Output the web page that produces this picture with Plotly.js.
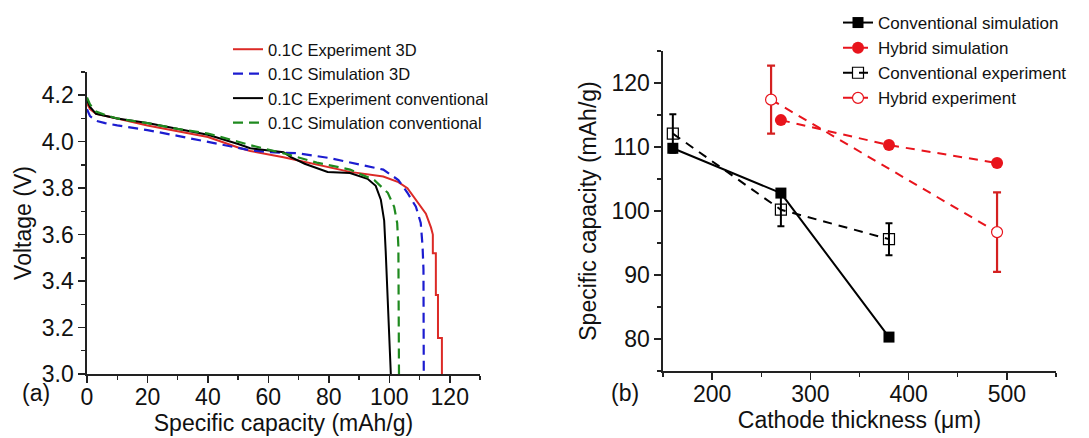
<!DOCTYPE html>
<html><head><meta charset="utf-8">
<script src="https://cdn.plot.ly/plotly-3.0.1.min.js"></script>
<style>html,body{margin:0;padding:0;background:#fff}#chart{width:1089px;height:438px}</style>
</head><body><div id="chart"></div>
<script>
// Panel (a): discharge curves, capacity (mAh/g) vs voltage (V)
const exp3dCap = [0,1,3,6,10,20,30,40,50,54,65,76,87,98,103,106,108.3,110.4,112.1,113.8,114.4,114.4,115.4,115.4,116.1,116.1,117.4,117.4];
const exp3dV   = [4.165,4.14,4.12,4.11,4.10,4.07,4.045,4.02,3.975,3.96,3.933,3.90,3.87,3.85,3.826,3.80,3.76,3.72,3.69,3.63,3.60,3.52,3.52,3.34,3.34,3.155,3.155,3.0];
const sim3dCap = [0,1,3,6,10,20,30,40,50,54,60,70,80,87,93,98,103,106,108.8,110.4,111,111.3,111.4];
const sim3dV   = [4.14,4.11,4.09,4.08,4.07,4.05,4.025,4.0,3.975,3.963,3.955,3.95,3.93,3.91,3.895,3.88,3.835,3.78,3.72,3.65,3.55,3.45,3.0];
const expConvCap = [0,1,3,6,10,20,30,40,50,54,65,67.3,72,79.6,87,92.8,95.5,97.2,98.3,98.8,100.5];
const expConvV   = [4.18,4.15,4.12,4.11,4.10,4.08,4.055,4.03,3.99,3.972,3.955,3.935,3.905,3.87,3.865,3.84,3.81,3.75,3.66,3.53,3.0];
const simConvCap = [0,1,3,6,10,20,30,40,50,54,65,76,87,95,99.5,101.6,102.6,103,103.2];
const simConvV   = [4.19,4.16,4.13,4.115,4.10,4.08,4.055,4.035,4.0,3.985,3.95,3.91,3.88,3.835,3.78,3.72,3.65,3.55,3.0];

// Panel (b): specific capacity vs cathode thickness
const convSimX = [160,270,380];
const convSimY = [109.8,102.8,80.3];
const hybSimX = [270,380,490];
const hybSimY = [114.2,110.3,107.5];
const convExpX = [160,270,380];
const convExpY = [112.1,100.2,95.6];
const convExpErr = [3.0,2.6,2.5];
const hybExpX = [260,490];
const hybExpY = [117.4,96.7];
const hybExpErr = [5.3,6.2];

const FONT = 'Arial, "Liberation Sans", sans-serif';
const RED_A = '#dc2a26', BLUE = '#1c1cd0', GREEN = '#1f8a1f', BLACK = '#000000', RED_B = '#e8141c';

const traces = [
  {x: exp3dCap, y: exp3dV, mode:'lines', name:'0.1C Experiment 3D', line:{color:RED_A,width:2}, xaxis:'x', yaxis:'y', legend:'legend'},
  {x: sim3dCap, y: sim3dV, mode:'lines', name:'0.1C Simulation 3D', line:{color:BLUE,width:2.2,dash:'10px,6px'}, xaxis:'x', yaxis:'y', legend:'legend'},
  {x: expConvCap, y: expConvV, mode:'lines', name:'0.1C Experiment conventional', line:{color:BLACK,width:2}, xaxis:'x', yaxis:'y', legend:'legend'},
  {x: simConvCap, y: simConvV, mode:'lines', name:'0.1C Simulation conventional', line:{color:GREEN,width:2.2,dash:'10px,6px'}, xaxis:'x', yaxis:'y', legend:'legend'},

  {x: convSimX, y: convSimY, mode:'lines+markers', name:'Conventional simulation', line:{color:BLACK,width:2}, marker:{symbol:'square',size:11,color:BLACK}, xaxis:'x2', yaxis:'y2', legend:'legend2'},
  {x: hybSimX, y: hybSimY, mode:'lines+markers', name:'Hybrid simulation', line:{color:RED_B,width:2,dash:'9px,7px'}, marker:{symbol:'circle',size:12,color:RED_B}, xaxis:'x2', yaxis:'y2', legend:'legend2'},
  {x: convExpX, y: convExpY, mode:'lines+markers', name:'Conventional experiment', line:{color:BLACK,width:2,dash:'9px,7px'}, marker:{symbol:'square-open',size:11,color:BLACK,line:{width:1.2}},
   error_y:{type:'data',array:convExpErr,visible:true,color:BLACK,thickness:2,width:3.5}, xaxis:'x2', yaxis:'y2', legend:'legend2'},
  {x: hybExpX, y: hybExpY, mode:'lines+markers', name:'Hybrid experiment', line:{color:RED_B,width:2,dash:'9px,7px'}, marker:{symbol:'circle',size:11,color:'#ffffff',line:{color:RED_B,width:1.2}},
   error_y:{type:'data',array:hybExpErr,visible:true,color:'#d42020',thickness:2.2,width:4}, xaxis:'x2', yaxis:'y2', legend:'legend2'}
];

const axisCommon = {
  showline:true, linecolor:'#222', linewidth:1.6, mirror:false, showgrid:false, zeroline:false,
  ticks:'outside', ticklen:7, tickwidth:1.6, tickcolor:'#222',
  tickfont:{family:FONT,size:23,color:'#111'}, automargin:false
};

const layout = {
  width:1089, height:438, margin:{l:0,r:0,t:0,b:0},
  paper_bgcolor:'#fff', plot_bgcolor:'#fff',
  font:{family:FONT,color:'#111'},
  xaxis: Object.assign({}, axisCommon, {domain:[87/1089,480/1089], range:[0,130], dtick:20, tick0:0, ticklabelstandoff:-5,
    minor:{dtick:10, ticklen:4, tickwidth:1.4, tickcolor:'#222', ticks:'outside'},
    title:{text:'Specific capacity (mAh/g)', font:{family:FONT,size:23,color:'#111'}, standoff:4}, anchor:'y'}),
  yaxis: Object.assign({}, axisCommon, {domain:[1-374/438,1-72/438], range:[3.0,4.3], dtick:0.2, tick0:3.0, tickformat:'.1f',
    minor:{dtick:0.1, ticklen:4, tickwidth:1.4, tickcolor:'#222', ticks:'outside'},
    title:{text:'Voltage (V)', font:{family:FONT,size:23,color:'#111'}, standoff:4}, anchor:'x'}),
  xaxis2: Object.assign({}, axisCommon, {domain:[663/1089,1056/1089], range:[150,550], dtick:100, tick0:0, ticklabelstandoff:-5,
    minor:{dtick:50, ticklen:4, tickwidth:1.4, tickcolor:'#222', ticks:'outside'},
    title:{text:'Cathode thickness (μm)', font:{family:FONT,size:23,color:'#111'}, standoff:4}, anchor:'y2'}),
  yaxis2: Object.assign({}, axisCommon, {domain:[1-371/438,1-51/438], range:[75,125], dtick:10, tick0:0,
    minor:{dtick:5, ticklen:4, tickwidth:1.4, tickcolor:'#222', ticks:'outside'},
    title:{text:'Specific capacity (mAh/g)', font:{family:FONT,size:23,color:'#111'}, standoff:8}, anchor:'x2'}),
  legend:{x:228/1089, y:1-32/438, xanchor:'left', yanchor:'top', bgcolor:'rgba(0,0,0,0)',
    font:{family:FONT,size:16.5,color:'#111'}, tracegroupgap:0},
  legend2:{x:838/1089, y:1-5/438, xanchor:'left', yanchor:'top', bgcolor:'rgba(0,0,0,0)',
    font:{family:FONT,size:17,color:'#111'}, tracegroupgap:0},
  showlegend:true,
  annotations:[
    {text:'(a)', xref:'paper', yref:'paper', x:20/1089, y:1-393/438, xanchor:'left', yanchor:'middle', showarrow:false, font:{family:FONT,size:23,color:'#111'}},
    {text:'(b)', xref:'paper', yref:'paper', x:609/1089, y:1-393/438, xanchor:'left', yanchor:'middle', showarrow:false, font:{family:FONT,size:23,color:'#111'}}
  ]
};

Plotly.newPlot('chart', traces, layout, {displayModeBar:false, staticPlot:true});
</script>
</body></html>
